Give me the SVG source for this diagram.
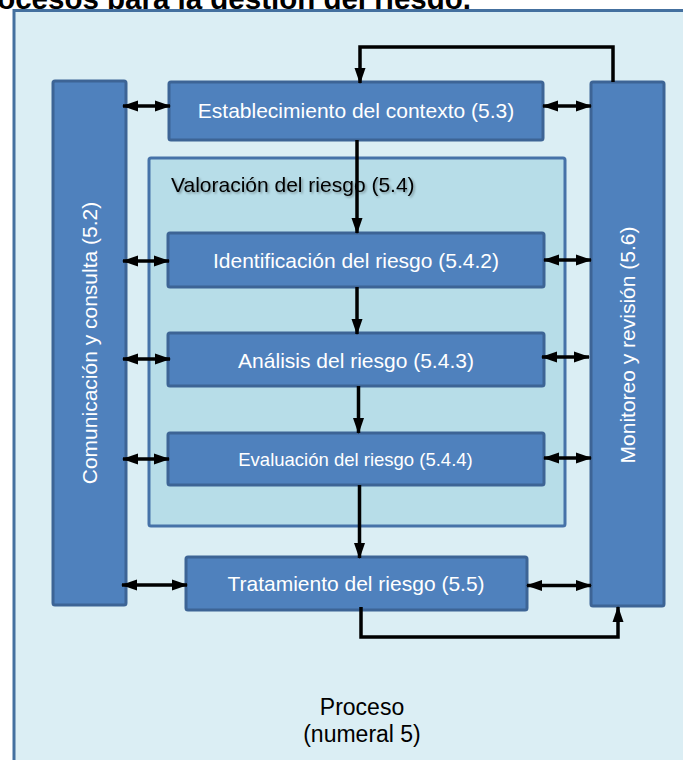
<svg xmlns="http://www.w3.org/2000/svg" width="683" height="760" viewBox="0 0 683 760">
<defs>
<style>
.box{fill:#4f81bd;stroke:#3d6495;stroke-width:3}
.wt{fill:#ffffff;font-family:"Liberation Sans",Arial,sans-serif;font-size:21px;text-anchor:middle}
.bt{fill:#000000;font-family:"Liberation Sans",Arial,sans-serif}
.cn{fill:none;stroke:#000000;stroke-width:3.5}
</style>
<marker id="ah" markerUnits="userSpaceOnUse" markerWidth="16" markerHeight="12" viewBox="0 0 16 12" refX="15" refY="6" orient="auto-start-reverse">
<path d="M0,0.5 L16,6 L0,11.5 z" fill="#000000"/>
</marker>
<filter id="sh" x="-5%" y="-30%" width="110%" height="160%">
<feDropShadow dx="1.5" dy="1.5" stdDeviation="0.8" flood-color="#000000" flood-opacity="0.35"/>
</filter>
</defs>
<rect width="683" height="760" fill="#ffffff"/>
<text class="bt" x="-34" y="8.5" font-size="29.5" font-weight="bold">Procesos para la gestión del riesgo.</text>
<g id="proceso">
<rect x="14" y="10.5" width="700" height="800" fill="#dbeef4" stroke="#44709f" stroke-width="3"/>
<text class="bt" x="362" y="715" font-size="23" text-anchor="middle">Proceso</text>
<text class="bt" x="362" y="742" font-size="23" text-anchor="middle">(numeral 5)</text>
</g>
<g id="valoracion">
<rect x="149" y="158" width="416" height="368" rx="2" fill="#b7dde8" stroke="#4672a8" stroke-width="3"/>
<text class="bt" x="171" y="192" font-size="21" filter="url(#sh)">Valoración del riesgo (5.4)</text>
</g>
<g id="comunicacion">
<rect class="box" x="53" y="81" width="73" height="524" rx="2"/>
<text class="wt" transform="translate(96.5,343) rotate(-90)">Comunicación y consulta (5.2)</text>
</g>
<g id="monitoreo">
<rect class="box" x="591" y="82" width="73" height="524" rx="2"/>
<text class="wt" transform="translate(634.5,345) rotate(-90)">Monitoreo y revisión (5.6)</text>
</g>
<g id="establecimiento">
<rect class="box" x="169" y="82" width="374" height="58" rx="2"/>
<text class="wt" x="356" y="118">Establecimiento del contexto (5.3)</text>
</g>
<g id="identificacion">
<rect class="box" x="168" y="233" width="376" height="54" rx="2"/>
<text class="wt" x="356" y="268">Identificación del riesgo (5.4.2)</text>
</g>
<g id="analisis">
<rect class="box" x="168" y="333" width="376" height="53" rx="2"/>
<text class="wt" x="356" y="368">Análisis del riesgo (5.4.3)</text>
</g>
<g id="evaluacion">
<rect class="box" x="168" y="433" width="376" height="52" rx="2"/>
<text class="wt" x="355.5" y="466" style="font-size:18.5px">Evaluación del riesgo (5.4.4)</text>
</g>
<g id="tratamiento">
<rect class="box" x="186" y="557" width="341" height="53" rx="2"/>
<text class="wt" x="356" y="591">Tratamiento del riesgo (5.5)</text>
</g>
<g id="connectors">
<path class="cn" d="M613,82 V47 H360 V83" marker-end="url(#ah)"/>
<path class="cn" d="M357,140 V233" marker-end="url(#ah)"/>
<path class="cn" d="M357,287 V334" marker-end="url(#ah)"/>
<path class="cn" d="M358.5,386 V433" marker-end="url(#ah)"/>
<path class="cn" d="M359.5,485 V558" marker-end="url(#ah)"/>
<path class="cn" d="M361,607 V637 H618 V607" marker-end="url(#ah)"/>
<path class="cn" stroke-width="3" d="M123,106 H170" marker-start="url(#ah)" marker-end="url(#ah)"/>
<path class="cn" stroke-width="3" d="M123,261 H169" marker-start="url(#ah)" marker-end="url(#ah)"/>
<path class="cn" stroke-width="3" d="M123,359 H170" marker-start="url(#ah)" marker-end="url(#ah)"/>
<path class="cn" stroke-width="3" d="M123,459 H169" marker-start="url(#ah)" marker-end="url(#ah)"/>
<path class="cn" stroke-width="3" d="M122,585 H187" marker-start="url(#ah)" marker-end="url(#ah)"/>
<path class="cn" stroke-width="3" d="M543,106 H591" marker-start="url(#ah)" marker-end="url(#ah)"/>
<path class="cn" stroke-width="3" d="M544,260 H591" marker-start="url(#ah)" marker-end="url(#ah)"/>
<path class="cn" stroke-width="3" d="M542,357 H589" marker-start="url(#ah)" marker-end="url(#ah)"/>
<path class="cn" stroke-width="3" d="M544,458 H591" marker-start="url(#ah)" marker-end="url(#ah)"/>
<path class="cn" stroke-width="3" d="M527,585.5 H591" marker-start="url(#ah)" marker-end="url(#ah)"/>
</g>
</svg>
